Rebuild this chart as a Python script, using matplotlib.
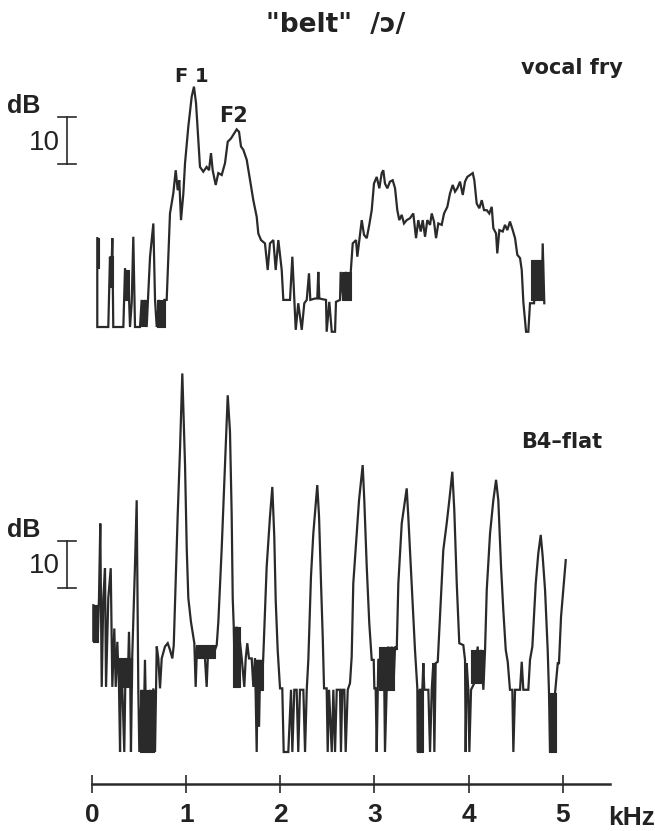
import matplotlib
matplotlib.use('Agg')
import matplotlib.pyplot as plt

# ---- data (frequency in kHz, level in dB re. floor) ----
top_khz = [0.053, 0.053, 0.170, 0.188, 0.199, 0.213, 0.223, 0.330, 0.348, 0.366,
           0.383, 0.401, 0.419, 0.436, 0.454, 0.507, 0.525, 0.542, 0.560, 0.578,
           0.614, 0.649, 0.667, 0.685, 0.709, 0.738, 0.766, 0.791, 0.826, 0.861,
           0.887, 0.908, 0.925, 0.943, 0.968, 0.986, 1.021, 1.057, 1.081, 1.103,
           1.127, 1.145, 1.180, 1.216, 1.241, 1.262, 1.280, 1.312, 1.340, 1.376,
           1.411, 1.440, 1.475, 1.510, 1.535, 1.560, 1.581, 1.606, 1.642, 1.677,
           1.712, 1.748, 1.765, 1.794, 1.836, 1.865, 1.889, 1.925, 1.950, 1.978,
           2.014, 2.031, 2.102, 2.127, 2.148, 2.163, 2.190, 2.227, 2.254, 2.280,
           2.304, 2.318, 2.368, 2.392, 2.403, 2.414, 2.485, 2.492, 2.520, 2.546,
           2.581, 2.591, 2.634, 2.641, 2.669, 2.698, 2.722, 2.748, 2.769, 2.804,
           2.818, 2.839, 2.865, 2.889, 2.918, 2.945, 2.971, 2.995, 3.024, 3.052,
           3.077, 3.094, 3.112, 3.137, 3.165, 3.194, 3.219, 3.243, 3.264, 3.290,
           3.314, 3.343, 3.378, 3.413, 3.442, 3.466, 3.492, 3.513, 3.538, 3.562,
           3.591, 3.609, 3.633, 3.655, 3.679, 3.715, 3.740, 3.775, 3.803, 3.832,
           3.857, 3.881, 3.910, 3.939, 3.963, 3.987, 4.016, 4.045, 4.062, 4.087,
           4.115, 4.141, 4.165, 4.194, 4.221, 4.247, 4.264, 4.293, 4.306, 4.328,
           4.364, 4.388, 4.413, 4.441, 4.470, 4.495, 4.519, 4.548, 4.566, 4.583,
           4.612, 4.636, 4.654, 4.697, 4.725, 4.742, 4.760, 4.779, 4.789, 4.806]
top_db = [18.7, 0, 0, 14.8, 8.5, 18.7, 0, 0, 12.4, 6.4,
          10.6, 0, 5.1, 19.0, 0, 0, 5.7, 0.8, 5.7, 0,
          14.8, 21.8, 5.7, 0, 5.7, 0, 5.7, 5.7, 23.9, 28.1,
          33.0, 28.8, 30.9, 22.5, 28.1, 34.5, 42.2, 48.5, 50.6, 47.1,
          39.4, 33.7, 32.7, 33.7, 33.0, 36.6, 33.0, 29.9, 32.4, 32.0,
          34.5, 39.0, 39.7, 40.8, 41.6, 41.1, 38.0, 37.3, 35.2, 30.9,
          26.7, 23.2, 19.7, 18.3, 17.6, 12.0, 17.6, 18.3, 12.0, 18.3,
          12.0, 5.7, 5.7, 14.8, 5.7, -0.6, 5.0, -0.6, 5.0, 5.7,
          11.3, 5.7, 6.0, 6.0, 11.6, 6.0, 5.7, -1.0, 5.3, -1.0,
          -1.0, 5.3, 5.7, 11.6, 5.7, 11.6, 5.7, 11.6, 17.6, 18.3,
          14.8, 18.3, 22.5, 19.4, 18.7, 21.5, 24.6, 30.2, 31.6, 29.2,
          32.4, 33.0, 30.2, 29.2, 30.6, 30.9, 29.2, 24.6, 22.5, 23.6,
          21.8, 22.5, 22.9, 23.9, 18.7, 22.5, 20.1, 22.5, 19.0, 22.5,
          21.5, 23.9, 22.2, 18.7, 21.8, 21.5, 23.9, 25.3, 28.1, 29.9,
          28.5, 29.2, 30.6, 27.8, 30.6, 31.6, 32.0, 32.4, 30.9, 26.0,
          25.0, 26.7, 24.6, 24.6, 23.9, 25.3, 20.8, 19.7, 15.5, 20.4,
          20.1, 21.5, 20.4, 22.2, 20.4, 18.7, 15.2, 14.5, 12.0, 5.3,
          -1.0, -1.0, 5.0, 5.0, 14.1, 6.4, 14.1, 5.7, 17.6, 5.0]

bot_khz = [0.011, 0.011, 0.036, 0.057, 0.071, 0.085, 0.100, 0.117, 0.135, 0.146,
           0.170, 0.196, 0.213, 0.234, 0.249, 0.266, 0.284, 0.295, 0.305, 0.319,
           0.340, 0.355, 0.376, 0.390, 0.404, 0.411, 0.425, 0.454, 0.472, 0.489,
           0.500, 0.525, 0.542, 0.560, 0.578, 0.614, 0.632, 0.649, 0.667, 0.685,
           0.702, 0.720, 0.738, 0.773, 0.802, 0.826, 0.851, 0.866, 0.879, 0.908,
           0.933, 0.957, 0.986, 1.004, 1.021, 1.049, 1.085, 1.099, 1.113, 1.145,
           1.163, 1.198, 1.216, 1.233, 1.270, 1.323, 1.340, 1.376, 1.411, 1.440,
           1.464, 1.482, 1.493, 1.504, 1.517, 1.535, 1.552, 1.570, 1.589, 1.616,
           1.631, 1.648, 1.666, 1.695, 1.712, 1.730, 1.748, 1.759, 1.773, 1.786,
           1.801, 1.818, 1.854, 1.889, 1.914, 1.935, 1.950, 1.971, 1.996, 2.020,
           2.035, 2.084, 2.113, 2.127, 2.148, 2.173, 2.190, 2.208, 2.244, 2.262,
           2.280, 2.297, 2.325, 2.350, 2.392, 2.411, 2.432, 2.450, 2.464, 2.492,
           2.503, 2.517, 2.546, 2.563, 2.581, 2.599, 2.634, 2.644, 2.658, 2.680,
           2.694, 2.716, 2.740, 2.758, 2.775, 2.811, 2.836, 2.875, 2.892, 2.918,
           2.945, 2.971, 2.992, 2.999, 3.013, 3.024, 3.041, 3.077, 3.105, 3.112,
           3.130, 3.147, 3.165, 3.184, 3.201, 3.219, 3.237, 3.254, 3.290, 3.343,
           3.360, 3.396, 3.431, 3.456, 3.460, 3.484, 3.509, 3.520, 3.530, 3.573,
           3.591, 3.609, 3.626, 3.637, 3.651, 3.673, 3.697, 3.732, 3.768, 3.796,
           3.828, 3.849, 3.875, 3.902, 3.945, 3.963, 3.970, 3.981, 3.998, 4.009,
           4.027, 4.062, 4.077, 4.098, 4.112, 4.133, 4.158, 4.176, 4.194, 4.229,
           4.264, 4.293, 4.317, 4.346, 4.370, 4.396, 4.417, 4.441, 4.466, 4.477,
           4.495, 4.548, 4.566, 4.583, 4.636, 4.654, 4.679, 4.715, 4.742, 4.768,
           4.789, 4.814, 4.842, 4.856, 4.867, 4.885, 4.902, 4.920, 4.949, 4.962,
           4.984, 5.008, 5.034]
bot_db = [30.9, 23.2, 30.9, 23.2, 32.4, 48.1, 13.7, 32.4, 38.7, 13.7,
          32.4, 38.7, 13.7, 26.0, 13.7, 23.2, 13.7, 0, 19.7, 13.7,
          0, 19.7, 13.7, 25.3, 13.7, 0, 20.4, 39.4, 53.0, 13.4,
          0, 13.1, 0, 19.4, 0, 13.1, 0, 13.4, 0, 22.2,
          19.7, 13.4, 19.7, 22.2, 22.9, 21.5, 19.7, 22.5, 30.9, 49.9,
          63.9, 79.7, 60.4, 42.9, 32.4, 27.4, 22.9, 13.7, 22.2, 19.7,
          22.2, 19.7, 13.7, 22.2, 19.7, 22.5, 27.4, 42.9, 60.4, 75.1,
          67.4, 49.9, 32.4, 26.4, 13.7, 26.4, 13.7, 23.2, 19.7, 13.7,
          19.7, 22.9, 19.7, 19.7, 13.7, 19.7, 0, 19.4, 5.3, 19.4,
          13.1, 20.1, 39.0, 49.5, 55.8, 45.3, 32.0, 21.5, 13.4, 13.4,
          0, 0, 13.1, 0, 13.1, 13.1, 0, 13.1, 13.1, 0,
          13.1, 19.4, 36.9, 46.0, 56.2, 49.5, 35.5, 24.3, 13.4, 13.4,
          0, 13.1, 0, 13.1, 0, 13.1, 13.1, 0, 13.1, 13.1,
          0, 13.1, 14.5, 20.1, 35.5, 46.0, 53.0, 60.4, 53.0, 39.0,
          27.1, 19.4, 19.4, 13.4, 13.4, 0, 19.4, 19.7, 13.1, 0,
          13.1, 22.2, 18.7, 22.2, 13.1, 22.2, 21.5, 35.5, 48.1, 55.5,
          49.5, 35.5, 21.5, 13.4, 0, 13.1, 13.1, 18.7, 13.1, 13.1,
          0, 13.1, 18.7, 0, 18.7, 19.0, 28.5, 42.5, 48.1, 53.0,
          59.0, 50.9, 35.5, 22.9, 22.5, 19.4, 0, 18.7, 13.1, 0,
          13.1, 14.5, 18.7, 22.2, 14.5, 21.5, 13.1, 21.5, 34.1, 46.0,
          53.0, 57.3, 53.0, 39.0, 29.9, 21.5, 19.0, 13.1, 13.1, 0,
          13.1, 13.1, 19.0, 13.1, 13.1, 19.4, 22.2, 35.5, 41.8, 45.7,
          41.1, 34.1, 21.5, 12.4, 0, 12.4, 0, 12.4, 18.7, 18.7,
          28.5, 34.1, 40.4]

# stretches where the trace flickers so fast that it prints as a solid block
top_blk_from = [0.050, 0.188, 0.350, 0.520, 0.690, 2.650, 4.668]
top_blk_to = [0.071, 0.218, 0.388, 0.568, 0.772, 2.748, 4.790]
top_blk_lo = [12.4, 8.4, 5.7, 0.3, 0.0, 5.7, 5.7]
top_blk_hi = [18.7, 14.9, 12.0, 5.7, 5.7, 11.6, 14.1]

bot_blk_from = [0.007, 0.270, 0.508, 1.103, 1.500, 1.730, 3.045, 3.450, 4.030, 4.858]
bot_blk_to = [0.061, 0.420, 0.656, 1.305, 1.570, 1.820, 3.210, 3.520, 4.150, 4.930]
bot_blk_lo = [23.2, 13.7, 0.0, 19.7, 13.7, 13.1, 13.1, 0.0, 14.5, 0.0]
bot_blk_hi = [30.9, 19.7, 13.1, 22.5, 26.4, 19.4, 22.2, 13.1, 21.5, 12.4]

freq_ticks = [0, 1, 2, 3, 4, 5]
freq_labels = ['0', '1', '2', '3', '4', '5']
title = '"belt"  /ɔ/'
top_label = 'vocal fry'
bot_label = 'B4\u2013flat'

# ---- layout (pixels of the 655x831 canvas) ----
W, H = 655, 831
X0_PX = 92.3          # where 0 kHz sits
PX_PER_KHZ = 94.05
PX_PER_DB = 4.75
TOP_FLOOR_PX = 327    # 0 dB line of the upper spectrum
BOT_FLOOR_PX = 752    # 0 dB line of the lower spectrum
AXIS_PX = 784
AXIS_END_PX = 610

INK = '#2a2a2a'
TXT = '#222222'

fig = plt.figure(figsize=(W / 100, H / 100), dpi=100)
fig.patch.set_facecolor('white')


def spectrum_axes(floor_px):
    ax = fig.add_axes([0, 0, 1, 1])
    ax.set_xlim(-X0_PX / PX_PER_KHZ, (W - X0_PX) / PX_PER_KHZ)
    ax.set_ylim(-(H - floor_px) / PX_PER_DB, floor_px / PX_PER_DB)
    ax.axis('off')
    ax.patch.set_alpha(0)
    return ax


ax_top = spectrum_axes(TOP_FLOOR_PX)
ax_bot = spectrum_axes(BOT_FLOOR_PX)

ax_top.plot(top_khz, top_db, color=INK, lw=1.6, solid_joinstyle='miter')
ax_bot.plot(bot_khz, bot_db, color=INK, lw=1.6, solid_joinstyle='miter')

for ax, k0s, k1s, los, his in ((ax_top, top_blk_from, top_blk_to, top_blk_lo, top_blk_hi),
                               (ax_bot, bot_blk_from, bot_blk_to, bot_blk_lo, bot_blk_hi)):
    for k0, k1, lo, hi in zip(k0s, k1s, los, his):
        ax.fill_between([k0, k1], [lo, lo], [hi, hi], color=INK, lw=0.8,
                        edgecolor=INK)

# 10 dB scale bars
bar_x = (66.5 - X0_PX) / PX_PER_KHZ
cap = 9 / PX_PER_KHZ
for ax, y0 in ((ax_top, 34.3), (ax_bot, 34.5)):
    ax.plot([bar_x, bar_x], [y0, y0 + 10], color=INK, lw=1.2)
    for y in (y0, y0 + 10):
        ax.plot([bar_x - cap, bar_x + cap], [y, y], color=INK, lw=1.2)

# frequency axis
ax_f = fig.add_axes([X0_PX / W, 1 - AXIS_PX / H, (AXIS_END_PX - X0_PX) / W, 0.0001])
ax_f.set_xlim(0, (AXIS_END_PX - X0_PX) / PX_PER_KHZ)
for s in ('top', 'left', 'right'):
    ax_f.spines[s].set_visible(False)
ax_f.spines['bottom'].set_linewidth(1.8)
ax_f.spines['bottom'].set_color(INK)
ax_f.set_yticks([])
ax_f.set_xticks(freq_ticks)
ax_f.set_xticklabels(freq_labels, family=['Liberation Sans', 'DejaVu Sans'],
                     fontsize=19, fontweight='bold', color=TXT)
ax_f.tick_params(axis='x', direction='inout', length=13.5, width=1.2,
                 color=INK, pad=7)
ax_f.patch.set_alpha(0)


def ptext(x, y, s, size, weight='bold', family='DejaVu Sans', ha='center'):
    fig.text(x / W, 1 - y / H, s, fontsize=size, fontweight=weight,
             family=[family, 'DejaVu Sans'], ha=ha, va='baseline', color=TXT)


ptext(336, 32, title, 19)
ptext(572, 74, top_label, 15)
ptext(562, 448, bot_label, 15)
ptext(192, 82, 'F 1', 14)
ptext(234, 122, 'F2', 15)
ptext(632, 825, 'kHz', 19, family='Liberation Sans')

for dy, ty in ((113, 150), (537, 573)):
    ptext(24, dy, 'dB', 18, family='Liberation Sans')
    ptext(44, ty, '10', 20, weight='normal', family='Liberation Sans')

fig.savefig('out.png', dpi=100, facecolor='white')
